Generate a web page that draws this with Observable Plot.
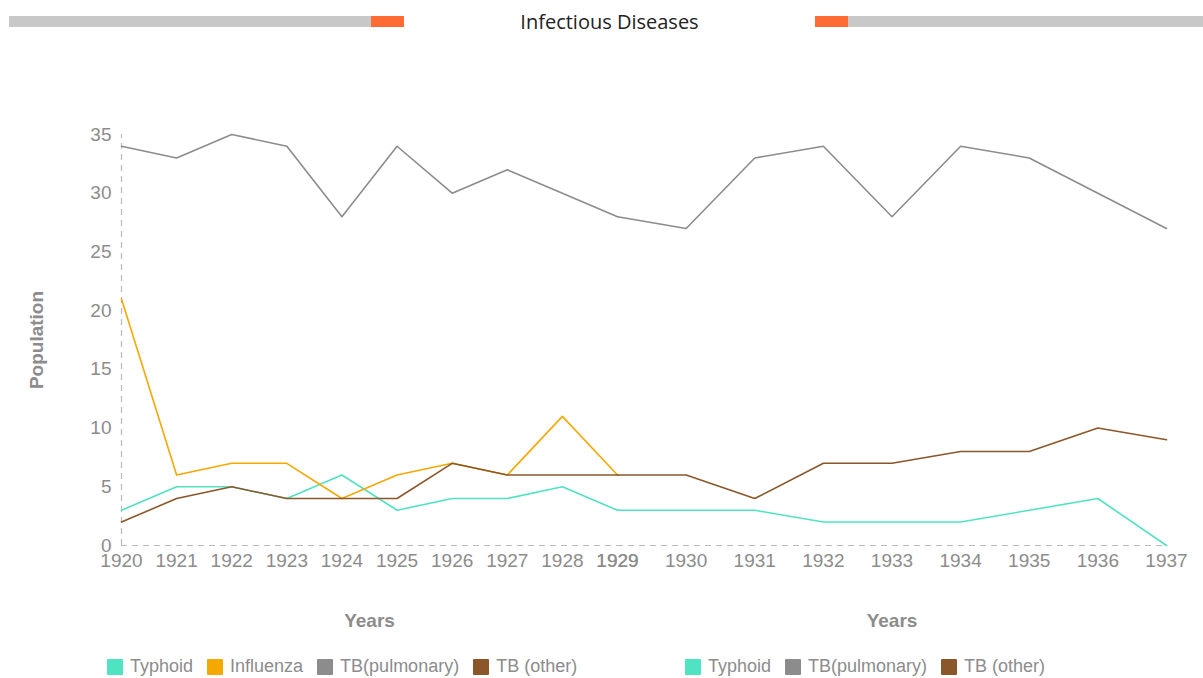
<!DOCTYPE html>
<html><head><meta charset="utf-8">
<script src="https://cdn.jsdelivr.net/npm/d3@7"></script>
<script src="https://cdn.jsdelivr.net/npm/@observablehq/plot@0.6"></script>
<style>
body{margin:0;background:#fff;}
#wrap{position:relative;width:1203px;height:678px;overflow:hidden;font-family:"Liberation Sans",Arimo,Arial,sans-serif;}
.bar{position:absolute;top:16px;height:11px;}
#title{position:absolute;top:8px;left:8px;width:1203px;text-align:center;font-family:"Open Sans",Lato,sans-serif;font-size:20px;color:#222;}
svg.panel text{font-family:"Liberation Sans",Arimo,Arial,sans-serif;}
svg.panel g[aria-label="x-axis label"] text, svg.panel g[aria-label="y-axis label"] text{font-weight:bold;fill:#8c8c8c;}
.legend{position:absolute;top:656px;display:flex;align-items:center;font-size:18px;color:#8c8c8c;}
.item{display:flex;align-items:center;margin-right:14px;}
.sw{width:16px;height:16px;margin-right:7px;border-radius:1px;}
</style></head>
<body><div id="wrap">
<div class="bar" style="left:9px;width:362px;background:#c8c8c8"></div>
<div class="bar" style="left:371px;width:33px;background:#ff6b35"></div>
<div class="bar" style="left:815px;width:33px;background:#ff6b35"></div>
<div class="bar" style="left:848px;width:355px;background:#c8c8c8"></div>
<div id="title">Infectious Diseases</div>
</div>
<script>
const yearsA = [1920,1921,1922,1923,1924,1925,1926,1927,1928,1929];
const yearsB = [1929,1930,1931,1932,1933,1934,1935,1936,1937];
const typhoidA = [3,5,5,4,6,3,4,4,5,3];
const influenzaA = [21,6,7,7,4,6,7,6,11,6];
const tbPulmA = [34,33,35,34,28,34,30,32,30,28];
const tbOtherA = [2,4,5,4,4,4,7,6,6,6];
const typhoidB = [3,3,3,2,2,2,3,4,0];
const tbPulmB = [28,27,33,34,28,34,33,30,27];
const tbOtherB = [6,6,4,7,7,8,8,10,9];
const seriesNames = ["Typhoid","Influenza","TB(pulmonary)","TB (other)"];
const seriesColors = ["#50e3c2","#f5a800","#8c8c8c","#8b572a"];
const yTicks = [0,5,10,15,20,25,30,35];
const legendA = ["Typhoid","Influenza","TB(pulmonary)","TB (other)"];
const legendB = ["Typhoid","TB(pulmonary)","TB (other)"];

function rows(years, seriesList){
  return seriesList.flatMap(([name, vals]) => years.map((yr,i)=>({year:yr, value:vals[i], series:name})));
}
const rowsA = rows(yearsA, [["Typhoid",typhoidA],["Influenza",influenzaA],["TB(pulmonary)",tbPulmA],["TB (other)",tbOtherA]]);
const rowsB = rows(yearsB, [["Typhoid",typhoidB],["TB(pulmonary)",tbPulmB],["TB (other)",tbOtherB]]);

const common = {
  width:1203, height:600, marginTop:74, marginBottom:115,
  y:{domain:[0,35]},
  color:{domain:seriesNames, range:seriesColors},
  style:{fontFamily:"Liberation Sans", fontSize:"19px", color:"#8c8c8c", background:"transparent", overflow:"visible"}
};
const dash = {stroke:"#bbbbbb", strokeDasharray:"6,5", strokeWidth:1.2};

const left = Plot.plot({
  ...common, marginLeft:121, marginRight:586,
  x:{domain:[1920,1929]},
  marks:[
    Plot.ruleY([0], dash),
    Plot.ruleX([yearsA[0]], {...dash, y1:0, y2:35}),
    Plot.axisY({ticks:yTicks, tickSize:0, tickPadding:10, label:"Population", labelArrow:"none", labelAnchor:"center", labelOffset:92}),
    Plot.axisX({ticks:yearsA, tickSize:0, tickPadding:8, tickFormat:"d", label:"Years", labelArrow:"none", labelAnchor:"center", labelOffset:81}),
    Plot.line(rowsA, {x:"year", y:"value", stroke:"series", z:"series", strokeWidth:1.6})
  ]
});
const right = Plot.plot({
  ...common, marginLeft:617, marginRight:37,
  x:{domain:[1929,1937]},
  marks:[
    Plot.ruleY([0], dash),
    Plot.axisY({ticks:[], tickSize:0, label:null}),
    Plot.axisX({ticks:yearsB, tickSize:0, tickPadding:8, tickFormat:"d", label:"Years", labelArrow:"none", labelAnchor:"center", labelOffset:81}),
    Plot.line(rowsB, {x:"year", y:"value", stroke:"series", z:"series", strokeWidth:1.6})
  ]
});
const wrap = document.getElementById("wrap");
for (const p of [left, right]) { p.classList.add("panel"); p.style.position="absolute"; p.style.left="0px"; p.style.top="60px"; wrap.appendChild(p); }

function legend(names, x){
  const d = document.createElement("div");
  d.className = "legend"; d.style.left = x + "px";
  for (const n of names){
    const it = document.createElement("div"); it.className="item";
    const sw = document.createElement("div"); sw.className="sw";
    sw.style.background = seriesColors[seriesNames.indexOf(n)];
    const t = document.createElement("span"); t.textContent = n;
    it.appendChild(sw); it.appendChild(t); d.appendChild(it);
  }
  wrap.appendChild(d);
}
legend(legendA, 107);
legend(legendB, 685);
</script>
</body></html>
